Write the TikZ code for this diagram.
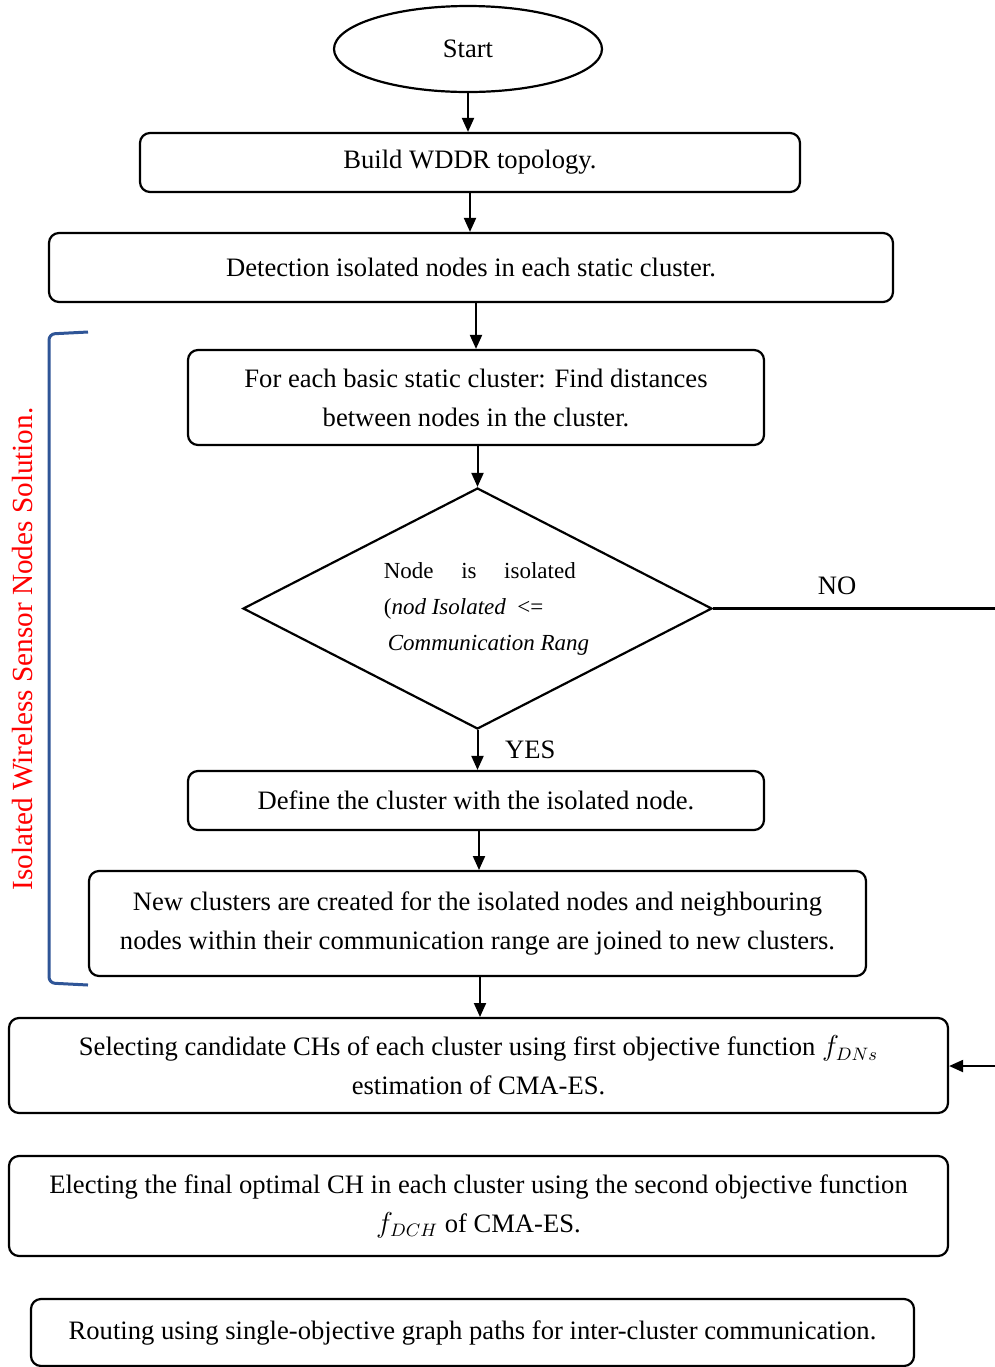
\documentclass[tikz,border=0pt]{standalone}
\usepackage{fontspec}
\setmainfont{Liberation Serif}
\usetikzlibrary{shapes.geometric, arrows.meta}
\definecolor{bracketblue}{RGB}{47,85,151}

\begin{document}
\begin{tikzpicture}[x=0.5pt, y=-0.5pt,
    box/.style={draw, rounded corners=5pt, line width=1.1pt, align=center, inner sep=0pt,
                font=\fontsize{13.3}{19.5}\selectfont},
    arr/.style={-{Triangle[length=7pt, width=6pt]}, line width=1pt}]
\useasboundingbox (0,0) rectangle (995,1367);
% Nodes
\node[ellipse, draw, line width=1.1pt, minimum width=134pt, minimum height=43pt,
      font=\fontsize{13.3}{15}\selectfont] (start) at (468,49) {Start};
\node[box, minimum width=330pt, minimum height=29.5pt] (build) at (470,162.5) {Build WDDR topology.};
\node[box, minimum width=422pt, minimum height=34.5pt] (detect) at (471,267.5) {Detection isolated nodes in each static cluster.};
\node[box, minimum width=288pt, minimum height=47.5pt] (dist) at (476,397.5) {For each basic static cluster: Find distances\\between nodes in the cluster.};
\node[diamond, draw, line width=1.1pt, aspect=1.95, minimum width=234.5pt, minimum height=120.5pt,
      inner sep=0pt, align=left, font=\fontsize{11.5}{18}\selectfont] (iso) at (477.5,608.5)
      {\hspace*{9pt}Node\hspace{1.2em}is\hspace{1.2em}isolated\\
       \hspace*{9pt}(\textit{nod Isolated}\ \ <=\\
       \hspace*{11pt}\textit{Communication Rang}};
\node[box, minimum width=288pt, minimum height=29.5pt] (define) at (476,800.5) {Define the cluster with the isolated node.};
\node[box, minimum width=388.5pt, minimum height=52.5pt] (newcl) at (477.5,923.5) {New clusters are created for the isolated nodes and neighbouring\\nodes within their communication range are joined to new clusters.};
\node[box, minimum width=469.5pt, minimum height=47.5pt] (select) at (478.5,1065.5) {Selecting candidate CHs of each cluster using first objective function $f_{DNs}$\\estimation of CMA-ES.};
\node[box, minimum width=469.5pt, minimum height=50pt] (elect) at (478.5,1206) {Electing the final optimal CH in each cluster using the second objective function\\$f_{DCH}$ of CMA-ES.};
\node[box, minimum width=441.5pt, minimum height=33.5pt] (route) at (472.5,1332.5) {Routing using single-objective graph paths for inter-cluster communication.};
\node[rotate=90, text=red, font=\fontsize{14.6}{16}\selectfont] (side) at (23,649) {Isolated Wireless Sensor Nodes Solution.};
\coordinate (noend) at (995,608.5);
\coordinate (back) at (995,1066);
% Edges
\draw[arr] (start.south) -- (start.south |- build.north);
\draw[arr] (build.south) -- (build.south |- detect.north);
\draw[arr] (dist.center |- detect.south) -- (dist.north);
\draw[arr] (iso.north |- dist.south) -- (iso.north);
\draw[arr] (iso.south) -- (iso.south |- define.north) node[midway, right=10pt, font=\fontsize{13.3}{15}\selectfont] {YES};
\draw[arr] (479,830) -- (479,870);
\draw[arr] (480,976) -- (480,1017);
\draw[line width=1.1pt] (iso.east) -- (noend) node[pos=0.44, above=3pt, font=\fontsize{13.3}{15}\selectfont] {NO};
\draw[arr] (back) -- (select.east |- back);
% Bracket
\draw[bracketblue, line width=1.5pt, rounded corners=3pt] (88,332) -- (49,334) -- (49,983) -- (88,985);
\end{tikzpicture}
\end{document}
